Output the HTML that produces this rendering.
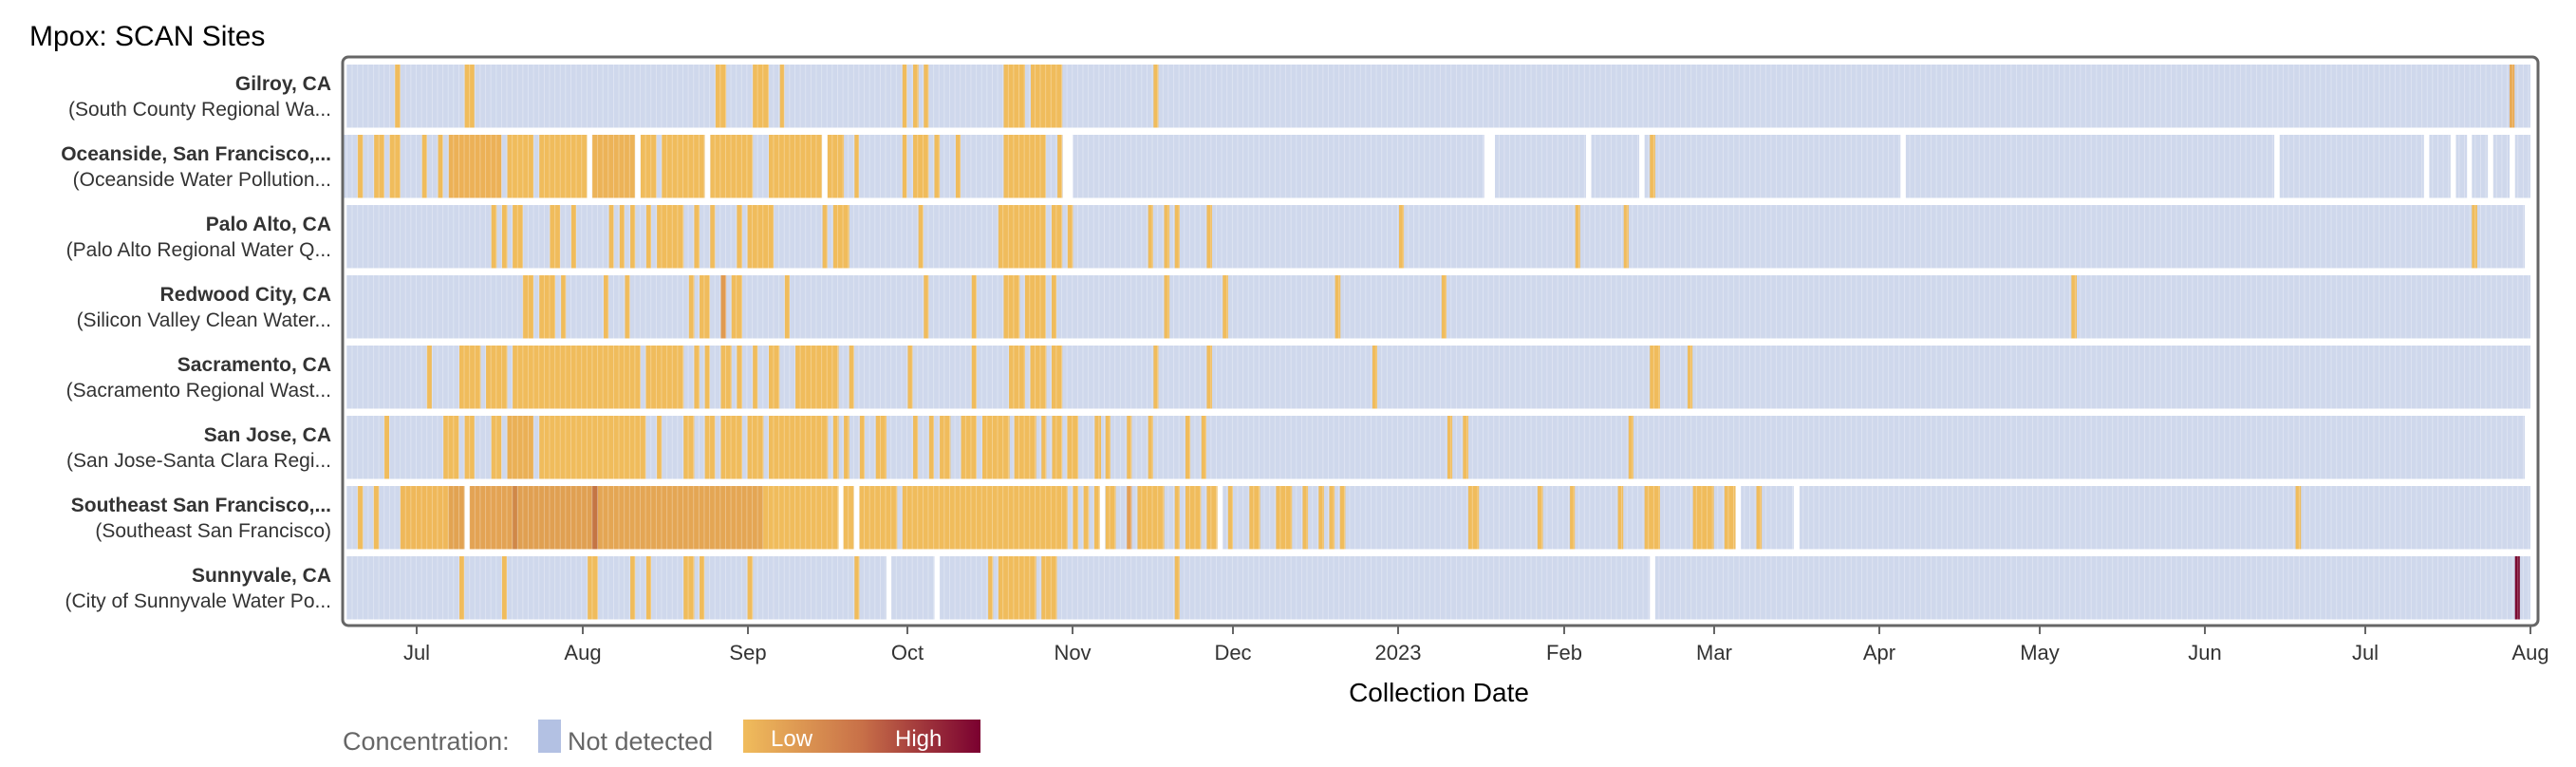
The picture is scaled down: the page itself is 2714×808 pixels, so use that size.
<!DOCTYPE html>
<html><head><meta charset="utf-8"><style>
html,body{margin:0;padding:0;background:#fff;}
svg{display:block;font-family:"Liberation Sans",sans-serif;}
</style></head><body>
<svg id="s" width="2714" height="808" viewBox="0 0 2714 808" xmlns="http://www.w3.org/2000/svg">
<defs>
<pattern id="dl" x="365" y="0" width="5.62" height="10" patternUnits="userSpaceOnUse">
<rect x="0" y="0" width="0.8" height="10" fill="#ffffff" opacity="0.35"/>
</pattern>
<linearGradient id="lg" x1="0" x2="1" y1="0" y2="0">
<stop offset="0" stop-color="#f0bc5c"/><stop offset="0.5" stop-color="#c87048"/><stop offset="1" stop-color="#7a0030"/>
</linearGradient>
</defs>
<text x="31" y="48" font-size="30" fill="#000">Mpox: SCAN Sites</text>
<g id="rows"></g>
<rect x="361" y="60" width="2313" height="599" rx="6" fill="none" stroke="#666" stroke-width="3"/>
<g id="labels" font-size="21" fill="#333" text-anchor="end"></g>
<g id="ticks" font-size="22" fill="#333" text-anchor="middle"></g>
<text x="1516" y="739" font-size="28" fill="#000" text-anchor="middle">Collection Date</text>
<text x="361" y="790" font-size="27" fill="#666">Concentration:</text>
<rect x="567" y="758" width="24" height="35" fill="#b3c1e3"/>
<text x="598" y="790" font-size="27" fill="#666">Not detected</text>
<rect x="783" y="758" width="250" height="35" fill="url(#lg)"/>
<text x="812" y="786" font-size="24" fill="#fff">Low</text>
<text x="943" y="786" font-size="24" fill="#fff">High</text>
</svg>
<script>
var NS="http://www.w3.org/2000/svg";
function el(p,t,a,txt){var e=document.createElementNS(NS,t);for(var k in a)e.setAttribute(k,a[k]);if(txt)e.textContent=txt;p.appendChild(e);return e;}
var O={A:360,B:1150,C:1914};
function X(z,k){return O[k]+z/1.96;}
var OR="#f0bc5c";
// each row: start, end, orange [k,a,b,color?], gaps [k,a,b]
var rows=[
{s:365,e:2666,o:[["A",110,121],["A",254,274],["A",772,794],["A",849,882],["A",905,914],["A",1158,1167],["A",1180,1191],["A",1202,1212],["A",1367,1411],["A",1423,1488],["B",128,138],["C",1431,1441,"#e8a850"]],g:[]},
{s:361,e:2666,o:[["A",33,44],["A",67,88],["A",99,121],["A",166,176],["A",199,209],["A",221,330,"#ecb157"],["A",342,396],["A",408,507],["A",517,606,"#ecb358"],["A",617,650],["A",661,750],["A",761,849],["A",882,992],["A",1003,1037],["A",1059,1068],["A",1158,1167],["A",1180,1212],["A",1224,1235],["A",1268,1278],["A",1367,1454],["A",1478,1488],["B",1153,1164]],
 g:[["A",507,517],["A",606,617],["A",750,761],["A",992,1003],["A",1489,1510],["B",811,833],["B",1021,1032],["B",1131,1142],["C",173,184],["C",945,956],["C",1254,1265],["C",1309,1320],["C",1343,1353],["C",1386,1397],["C",1431,1442]]},
{s:365,e:2660,o:[["A",309,320],["A",331,342],["A",353,374],["A",430,451],["A",474,484],["A",552,562],["A",574,584],["A",596,606],["A",629,639],["A",651,706],["A",728,739],["A",761,771],["A",816,827],["A",838,892],["A",993,1003],["A",1015,1048],["A",1191,1201],["A",1356,1454],["A",1466,1488],["A",1499,1510],["B",117,127],["B",150,161],["B",172,182],["B",238,249],["B",635,645],["B",999,1009],["B",1099,1109],["C",1353,1364]],g:[]},
{s:365,e:2666,o:[["A",374,396],["A",408,441],["A",453,463],["A",541,551],["A",585,595],["A",717,728],["A",739,760],["A",783,794,"#e09a50"],["A",805,827],["A",915,925],["A",1202,1212],["A",1301,1311],["A",1367,1400],["A",1411,1454],["A",1466,1476],["B",150,161],["B",271,282],["B",503,514],["B",723,733],["C",526,537]],g:[]},
{s:365,e:2666,o:[["A",176,186],["A",243,287],["A",298,342],["A",353,617],["A",628,706],["A",728,739],["A",750,760],["A",783,805],["A",816,827],["A",849,859],["A",882,904],["A",937,1026],["A",1048,1058],["A",1169,1179],["A",1301,1311],["A",1378,1411],["A",1422,1455],["A",1466,1488],["B",128,138],["B",238,249],["B",580,590],["B",1153,1174],["B",1231,1241]],g:[]},
{s:365,e:2660,o:[["A",88,98],["A",210,242],["A",254,274],["A",309,330],["A",342,396,"#eab056"],["A",408,628],["A",651,661],["A",706,728],["A",750,771],["A",783,827],["A",838,871],["A",882,1004],["A",1015,1026],["A",1037,1048],["A",1070,1080],["A",1103,1125],["A",1180,1190],["A",1213,1223],["A",1235,1257],["A",1279,1311],["A",1323,1379],["A",1389,1434],["A",1445,1455],["A",1467,1488],["A",1498,1521],["A",1555,1568],["B",7,17],["B",29,39],["B",73,83],["B",117,127],["B",194,204],["B",227,237],["B",735,745],["B",767,778],["B",1109,1119]],g:[]},
{s:365,e:2666,o:[["A",33,44],["A",66,77],["A",121,221,"#efb85a"],["A",221,254,"#e2a352"],["A",264,353,"#e3a354"],["A",353,363,"#d08848"],["A",363,517,"#e0a052"],["A",517,529,"#c47544"],["A",529,870,"#e4a654"],["A",870,1026],["A",1036,1058],["A",1069,1147],["A",1158,1499],["A",1510,1521],["A",1532,1543],["A",1554,1568],["B",7,17],["B",29,50],["B",73,83,"#e4a056"],["B",95,150],["B",172,182],["B",194,226],["B",238,260],["B",282,292],["B",326,348],["B",381,414],["B",436,447],["B",469,480],["B",491,502],["B",513,524],["B",778,800],["B",921,932],["B",988,998],["B",1087,1098],["B",1142,1174],["B",1242,1285],["B",1307,1330],["B",1373,1384],["C",989,1000]],
 g:[["A",254,264],["A",1026,1036],["A",1058,1069],["B",17,28],["B",260,271],["B",1330,1341],["B",1450,1462]]},
{s:365,e:2666,o:[["A",243,253],["A",331,341],["A",508,529],["A",596,606],["A",629,639],["A",706,728],["A",739,749],["A",838,849],["A",1059,1069],["A",1335,1345],["A",1356,1434],["A",1445,1477],["B",172,182],["C",1442,1452,"#7a0a30"]],
 g:[["A",1125,1135],["A",1224,1235],["B",1153,1164]]}
];
var G=document.getElementById("rows");
rows.forEach(function(r,i){
 var y=68+74*i,h=66.5;
 el(G,"rect",{x:r.s,y:y,width:r.e-r.s,height:h,fill:"#cfd8ec"});
 r.o.forEach(function(o){var a=X(o[1],o[0]),b=X(o[2],o[0]);el(G,"rect",{x:a,y:y,width:b-a,height:h,fill:o[3]||OR});});
 el(G,"rect",{x:r.s,y:y,width:r.e-r.s,height:h,fill:"url(#dl)"});
 r.g.forEach(function(o){var a=X(o[1],o[0]),b=X(o[2],o[0]);el(G,"rect",{x:a,y:y-1,width:b-a,height:h+2,fill:"#fff"});});
});
var L=[["Gilroy, CA","(South County Regional Wa..."],["Oceanside, San Francisco,...","(Oceanside Water Pollution..."],["Palo Alto, CA","(Palo Alto Regional Water Q..."],["Redwood City, CA","(Silicon Valley Clean Water..."],["Sacramento, CA","(Sacramento Regional Wast..."],["San Jose, CA","(San Jose-Santa Clara Regi..."],["Southeast San Francisco,...","(Southeast San Francisco)"],["Sunnyvale, CA","(City of Sunnyvale Water Po..."]];
var LG=document.getElementById("labels");
L.forEach(function(l,i){var c=68+74*i+33;
 el(LG,"text",{x:349,y:c-6,"font-weight":"bold"},l[0]);
 el(LG,"text",{x:349,y:c+21},l[1]);});
var T=[["Jul",439],["Aug",614],["Sep",788],["Oct",956],["Nov",1130],["Dec",1299],["2023",1473],["Feb",1648],["Mar",1806],["Apr",1980],["May",2149],["Jun",2323],["Jul",2492],["Aug",2666]];
var TG=document.getElementById("ticks");
T.forEach(function(t){el(TG,"line",{x1:t[1],x2:t[1],y1:659,y2:668,stroke:"#666","stroke-width":2});el(TG,"text",{x:t[1],y:695},t[0]);});
</script>
</body></html>
